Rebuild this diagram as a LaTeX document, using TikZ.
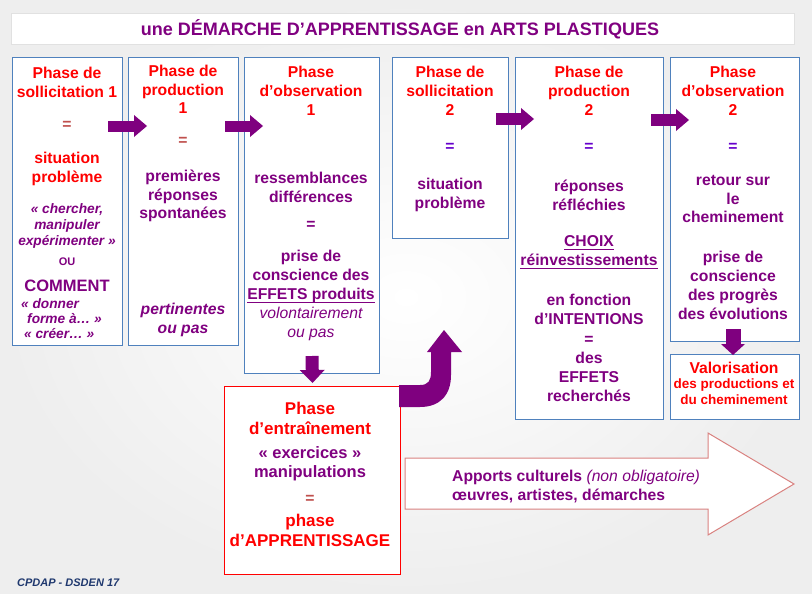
\documentclass[tikz,border=0pt]{standalone}
\usepackage{fontspec}
\setmainfont{Liberation Sans}
\usetikzlibrary{arrows.meta,calc}
\definecolor{ppl}{RGB}{128,0,128}
\definecolor{arrp}{RGB}{127,0,127}
\definecolor{rd}{RGB}{255,0,0}
\definecolor{eqr}{RGB}{192,80,77}
\definecolor{eqb}{RGB}{102,0,204}
\definecolor{bxb}{RGB}{79,129,189}
\definecolor{navy}{RGB}{31,56,110}
\definecolor{pinkl}{RGB}{217,130,128}
\definecolor{bgc}{RGB}{238,238,238}
\definecolor{ttl}{RGB}{225,225,225}
\newcommand\ulx[1]{\setbox0\hbox{#1}\rlap{\rule[-3.8pt]{\wd0}{1.6pt}}\box0}
\begin{document}
\begin{tikzpicture}[x=1pt,y=-1pt,
  box/.style={draw=bxb,line width=1pt,fill=white,anchor=north west,inner sep=0pt},
  big/.style={font=\fontsize{15.7}{18.8}\selectfont\bfseries,align=center,inner sep=0pt},
  hd/.style={big,text=rd},
  bd/.style={big,text=ppl},
  sm/.style={font=\fontsize{13.7}{16}\selectfont\bfseries\itshape,align=center,inner sep=0pt,text=ppl},
  harr/.style={draw=arrp,line width=11pt,-{Triangle[length=13pt,width=22pt,line width=0pt]}},
  varr/.style={draw=arrp,line width=13pt,-{Triangle[length=13pt,width=25pt,line width=0pt]}}
]
\shade[inner color=white,outer color=bgc] (0,0) rectangle (812,594);
\useasboundingbox (0,0) rectangle (812,594);

% title
\node[draw=ttl,fill=white,anchor=north west,minimum width=783pt,minimum height=31pt,inner sep=0pt] (title) at (11,13) {};
\node[font=\fontsize{18}{20}\selectfont\bfseries,text=ppl,inner sep=0pt] (ttext) at (400,29) {une DÉMARCHE D’APPRENTISSAGE en ARTS PLASTIQUES};

% boxes
\node[box,minimum width=110pt,minimum height=288pt] (b1) at (12,57) {};
\node[box,minimum width=110pt,minimum height=288pt] (b2) at (128,57) {};
\node[box,minimum width=135pt,minimum height=316pt] (b3) at (244,57) {};
\node[box,minimum width=116pt,minimum height=181pt] (b4) at (392,57) {};
\node[box,minimum width=148pt,minimum height=362pt] (b5) at (515,57) {};
\node[box,minimum width=129pt,minimum height=284pt] (b6) at (670,57) {};
\node[box,minimum width=129pt,minimum height=65pt] (bv) at (670,354) {};
\node[box,draw=rd,minimum width=176pt,minimum height=188pt] (br) at (224,386) {};

% box 1
\node[hd] (t1a) at (67,82) {Phase de\\sollicitation 1};
\node[big,text=eqr] (t1b) at (67,125) {=};
\node[hd] (t1c) at (67,169) {situation\\problème};
\node[sm] (t1d) at (67,226) {«~chercher,\\manipuler\\expérimenter~»};
\node[font=\fontsize{11}{13}\selectfont\bfseries,text=ppl,inner sep=0pt] (t1e) at (67,262) {OU};
\node[font=\fontsize{16.5}{19}\selectfont\bfseries,text=ppl,inner sep=0pt] (t1f) at (67,286) {COMMENT};
\node[sm,font=\fontsize{13.7}{15}\selectfont\bfseries\itshape,align=left,anchor=west] (t1g) at (21,319) {«~donner\\\hspace{6pt}forme à…~»\\\hspace{3pt}«~créer…~»};

% box 2
\node[hd] (t2a) at (183,89.5) {Phase de\\production\\1};
\node[big,text=eqr] (t2b) at (183,141) {=};
\node[bd] (t2c) at (183,196) {premières\\réponses\\spontanées};
\node[bd,font=\fontsize{15.7}{18.5}\selectfont\bfseries\itshape] (t2d) at (183,320) {pertinentes\\ou pas};

% box 3
\node[hd] (t3a) at (311,91) {Phase\\d’observation\\1};
\node[bd] (t3b) at (311,187.5) {ressemblances\\différences};
\node[bd] (t3c) at (311,225) {=};
\node[bd] (t3d) at (311,277) {prise de\\conscience des\\\ulx{EFFETS produits}};
\node[bd,font=\fontsize{15.7}{18.5}\selectfont\itshape] (t3e) at (311,324) {volontairement\\ou pas};

% box 4
\node[hd] (t4a) at (450,91) {Phase de\\sollicitation\\2};
\node[big,text=eqb] (t4b) at (450,147) {=};
\node[bd] (t4c) at (450,195) {situation\\problème};

% box 5
\node[hd] (t5a) at (589,91) {Phase de\\production\\2};
\node[big,text=eqb] (t5b) at (589,147) {=};
\node[bd] (t5c) at (589,195) {réponses\\réfléchies};
\node[bd] (t5d) at (589,252.5) {\ulx{CHOIX}\\\ulx{réinvestissements}};
\node[bd,font=\fontsize{15.7}{19.2}\selectfont\bfseries] (t5e) at (589,348) {en fonction\\d’INTENTIONS\\=\\des\\EFFETS\\recherchés};

% box 6
\node[hd] (t6a) at (733,91) {Phase\\d’observation\\2};
\node[big,text=eqb] (t6b) at (733,147) {=};
\node[bd] (t6c) at (733,199) {retour sur\\le\\cheminement};
\node[bd,font=\fontsize{15.7}{19}\selectfont\bfseries] (t6d) at (733,285.5) {prise de\\conscience\\des progrès\\des évolutions};

% valorisation
\node[hd] (tva) at (734,368) {Valorisation};
\node[font=\fontsize{13.5}{16}\selectfont\bfseries,text=rd,align=center,inner sep=0pt] (tvb) at (734,392) {des productions et\\du cheminement};

% red box
\node[hd,font=\fontsize{17}{20}\selectfont\bfseries] (tra) at (310,418) {Phase\\d’entraînement};
\node[bd,font=\fontsize{16.5}{19.5}\selectfont\bfseries] (trb) at (310,463.5) {«~exercices~»\\manipulations};
\node[big,text=eqr] (trc) at (310,499) {=};
\node[hd,font=\fontsize{17}{19.5}\selectfont\bfseries] (trd) at (310,530.5) {phase\\d’APPRENTISSAGE};

% arrows
\coordinate (a1s) at (108,126); \coordinate (a1e) at (147,126);
\coordinate (a2s) at (225,126); \coordinate (a2e) at (263,126);
\coordinate (a3s) at (496,119); \coordinate (a3e) at (534,119);
\coordinate (a4s) at (651,120); \coordinate (a4e) at (689,120);
\draw[harr] (a1s) -- (a1e);
\draw[harr] (a2s) -- (a2e);
\draw[harr] (a3s) -- (a3e);
\draw[harr] (a4s) -- (a4e);
\draw[varr] ($(b3.south)+(0,-18)$) -- ($(br.north)+(0,-3)$);
\draw[varr,line width=15pt,-{Triangle[length=11pt,width=24pt,line width=0pt]}] ($(b6.south)+(-2,-13)$) -- ($(bv.north)+(-2,1)$);

% curved arrow
\fill[arrp] (399,385) -- (420,385) .. controls (428,385) and (431,381) .. (431,372) -- (431,352) -- (427,352) -- (444,330) -- (462,352) -- (451,352) -- (451,375) .. controls (451,395) and (440,407) .. (420,407) -- (399,407) -- cycle;

% big outlined arrow
\draw[draw=pinkl,line width=1pt,fill=white] (405,458) -- (708,458) -- (708,433) -- (794,484) -- (708,535) -- (708,509) -- (405,509) -- cycle;
\node[font=\fontsize{15.7}{19}\selectfont\bfseries,text=ppl,align=left,anchor=west,inner sep=0pt] (apports) at (452,486.5) {Apports culturels {\mdseries\itshape (non obligatoire)}\\œuvres, artistes, démarches};

% footer
\node[font=\fontsize{11}{13}\selectfont\bfseries\itshape,text=navy,anchor=west,inner sep=0pt] (foot) at (17,583) {CPDAP - DSDEN 17};
\end{tikzpicture}
\end{document}
